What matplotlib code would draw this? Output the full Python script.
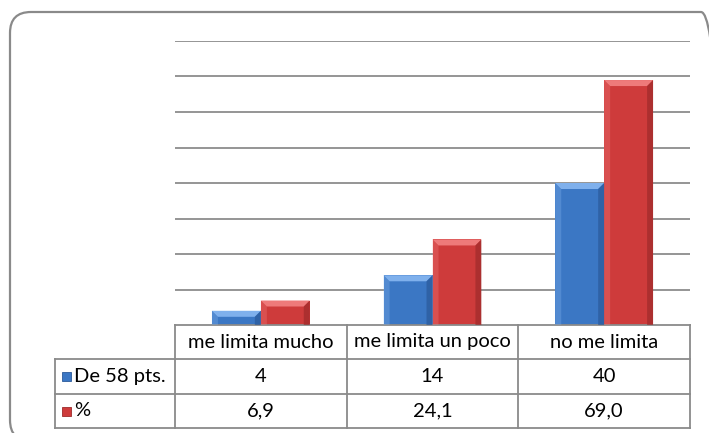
import matplotlib.pyplot as plt
from matplotlib.patches import FancyBboxPatch, Rectangle, Polygon
from matplotlib.transforms import IdentityTransform
import numpy as np

plt.rcParams['font.family'] = ['Lato', 'DejaVu Sans']

categories = ['me limita mucho', 'me limita un poco', 'no me limita']
series_names = ['De 58 pts.', '%']
pts = [4, 14, 40]
pct = [6.9, 24.1, 69.0]
pct_labels = ['6,9', '24,1', '69,0']

face = ['#3B77C4', '#CE3B3B']
light = ['#7FB0EC', '#EE7A7A']
dark = ['#2B5A9A', '#9E2A2A']

W, H = 709, 433
fig = plt.figure(figsize=(W / 100, H / 100), dpi=100)

# rounded outer frame in pixels (runs past the right and bottom edges)
frame = FancyBboxPatch((10, H - 441), 712, 429,
                       boxstyle='round,pad=0,rounding_size=21',
                       transform=IdentityTransform(), fill=False,
                       edgecolor='#8a8a8a', linewidth=1.6)
fig.patches.append(frame)

ax = fig.add_axes([175 / W, 1 - 325 / H, 515 / W, 284 / H])
ax.set_xlim(-0.5, 2.5)
ax.set_ylim(0, 80)
for s in ax.spines.values():
    s.set_visible(False)
ax.set_xticks([])
ax.set_yticks([])
for g in range(10, 81, 10):
    ax.axhline(g, color='#8c8c8c', lw=1.3, zorder=0)

x = np.arange(len(categories))
bw = 0.285
px_x = 3 / 515   # data units per pixel, horizontal
px_y = 80 / 284  # data units per pixel, vertical

for i, vals in enumerate([pts, pct]):
    bars = ax.bar(x - bw / 2 + i * bw, vals, bw, color=face[i],
                  edgecolor='none', zorder=2)
    for b in bars:
        x0, w, h = b.get_x(), b.get_width(), b.get_height()
        dx = 6 * px_x
        dy = min(6 * px_y, h / 2)
        # bevelled top, left and right sides
        ax.add_patch(Polygon([(x0, h), (x0 + w, h), (x0 + w - dx, h - dy),
                              (x0 + dx, h - dy)], closed=True,
                             color=light[i], lw=0, zorder=3))
        ax.add_patch(Polygon([(x0, 0), (x0, h), (x0 + dx, h - dy),
                              (x0 + dx, 0)], closed=True,
                             color=light[i], alpha=0.35, lw=0, zorder=3))
        ax.add_patch(Polygon([(x0 + w, 0), (x0 + w, h), (x0 + w - dx, h - dy),
                              (x0 + w - dx, 0)], closed=True,
                             color=dark[i], alpha=0.7, lw=0, zorder=3))

# data table below the plot
tc = '#8a8a8a'
rows_y = [0, -34 / 284, -69 / 284, -103 / 284]
label_x = -120 / 515
kw = dict(transform=ax.transAxes, clip_on=False, color=tc, lw=1.3)
ax.plot([0, 1], [rows_y[0]] * 2, **kw)
for ry in rows_y[1:]:
    ax.plot([label_x, 1], [ry] * 2, **kw)
for k in range(4):
    ax.plot([k / 3] * 2, [rows_y[0], rows_y[3]], **kw)
ax.plot([label_x] * 2, [rows_y[1], rows_y[3]], **kw)

fs = 14.5
for k, cat in enumerate(categories):
    cx = (k + 0.5) / 3
    ax.text(cx, (rows_y[0] + rows_y[1]) / 2, cat, transform=ax.transAxes,
            ha='center', va='center', fontsize=fs, color='black')
    ax.text(cx, (rows_y[1] + rows_y[2]) / 2, str(pts[k]), transform=ax.transAxes,
            ha='center', va='center', fontsize=fs, color='black')
    ax.text(cx, (rows_y[2] + rows_y[3]) / 2, pct_labels[k], transform=ax.transAxes,
            ha='center', va='center', fontsize=fs, color='black')

for i, name in enumerate(series_names):
    ry = (rows_y[i + 1] + rows_y[i + 2]) / 2
    ky = 1 - (325 + 17 + 34.5 * (i + 1)) / H
    fig.patches.append(Rectangle((62 / W, ky - 4.5 / H), 9 / W, 9 / H,
                                 transform=fig.transFigure,
                                 facecolor=face[i], edgecolor=dark[i], lw=0.6))
    ax.text(label_x + 19 / 515, ry, name, transform=ax.transAxes,
            ha='left', va='center', fontsize=fs, color='black')

fig.savefig('out.png', dpi=100)
